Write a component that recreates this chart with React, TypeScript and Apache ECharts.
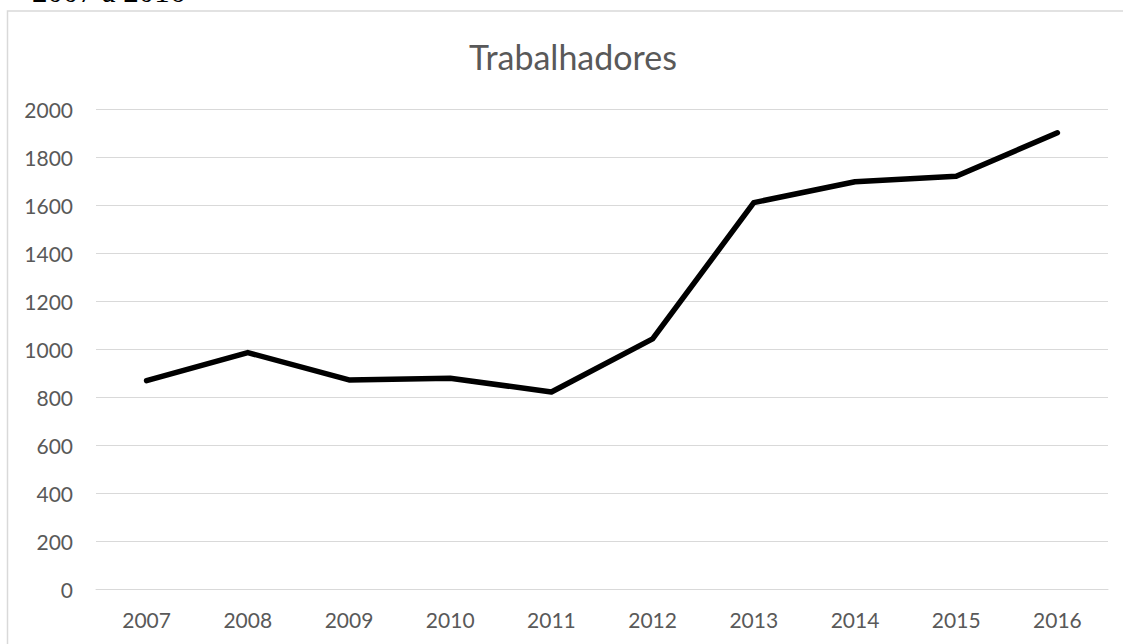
import React, { useEffect, useRef } from "react";
import * as echarts from "echarts";

const years = ["2007", "2008", "2009", "2010", "2011", "2012", "2013", "2014", "2015", "2016"];
const workers = [868, 985, 871, 878, 821, 1042, 1610, 1697, 1720, 1901];
const titleText = "Trabalhadores";
const captionText = "2007 a 2016";

export default function App() {
  const ref = useRef<HTMLDivElement>(null);
  useEffect(() => {
    if (!ref.current) return;
    const chart = echarts.init(ref.current, null, { renderer: "svg" });
    const font = "Lato, 'Open Sans', sans-serif";
    chart.setOption({
      animation: false,
      backgroundColor: "#ffffff",
      title: {
        text: titleText,
        left: 568,
        top: 34,
        textAlign: "center",
        textStyle: { fontFamily: font, fontSize: 34, fontWeight: "normal", color: "#595959" },
      },
      graphic: [
        {
          type: "rect",
          shape: { x: 7.5, y: 11, width: 1140, height: 660 },
          style: { fill: "none", stroke: "#d9d9d9", lineWidth: 1.5 },
          silent: true,
        },
        {
          type: "text",
          x: 32,
          y: 7,
          style: {
            text: captionText,
            fontFamily: "'Liberation Serif', 'Times New Roman', serif",
            fontSize: 31,
            fill: "#000000",
            verticalAlign: "bottom",
          },
        },
      ],
      grid: { left: 96, right: 15, top: 109, bottom: 55, containLabel: false },
      xAxis: {
        type: "category",
        data: years,
        boundaryGap: true,
        axisLine: { show: true, lineStyle: { color: "#d9d9d9", width: 1 } },
        axisTick: { show: false },
        axisLabel: { color: "#595959", fontFamily: font, fontSize: 21, margin: 20 },
      },
      yAxis: {
        type: "value",
        min: 0,
        max: 2000,
        interval: 200,
        axisLine: { show: false },
        axisTick: { show: false },
        splitLine: { show: true, lineStyle: { color: "#d9d9d9", width: 1 } },
        axisLabel: {
          color: "#595959",
          fontFamily: font,
          fontSize: 21,
          margin: 23,
          formatter: (v: number) => String(v),
        },
      },
      series: [
        {
          type: "line",
          data: workers,
          showSymbol: false,
          symbol: "none",
          lineStyle: { color: "#000000", width: 5.5, cap: "round", join: "round" },
        },
      ],
    });
    return () => chart.dispose();
  }, []);
  return <div ref={ref} style={{ position: "absolute", left: 0, top: 0, width: 1123, height: 644 }} />;
}
